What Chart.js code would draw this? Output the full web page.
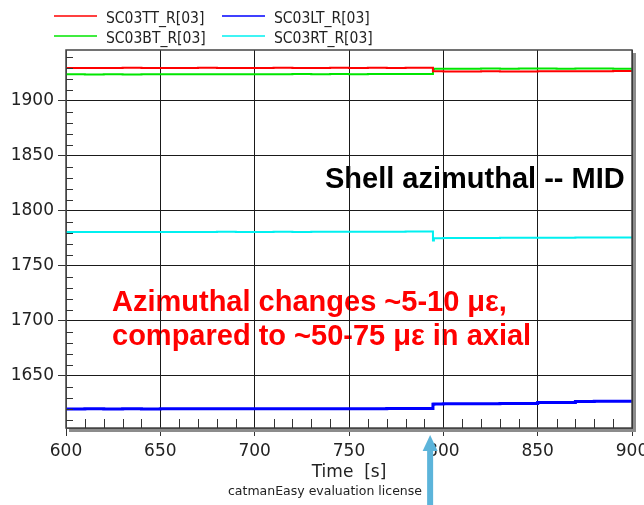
<!DOCTYPE html>
<html>
<head>
<meta charset="utf-8">
<script src="https://cdn.jsdelivr.net/npm/chart.js@4"></script>
<style>
    html, body { margin: 0; padding: 0; background: #fff; }
    #wrap { width: 644px; height: 505px; }
</style>
</head>
<body>
<div id="wrap"><canvas id="chart" width="644" height="505"></canvas></div>
<script>
// [DATA] valores
const times = [600, 610, 620, 630, 640, 650, 660, 670, 680, 690, 700, 710, 720, 730, 740, 750, 760, 770, 780, 790,
    794.5, 795, 800, 810, 820, 830, 840, 850, 860, 870, 880, 890, 900];
const seriesNames = ['SC03TT_R[03]', 'SC03LT_R[03]', 'SC03BT_R[03]', 'SC03RT_R[03]'];
const tt = [1929.6, 1929.7, 1929.6, 1929.8, 1929.6, 1929.7, 1929.7, 1929.8, 1929.7, 1929.6, 1929.7, 1929.8, 1929.7, 1929.7, 1929.8, 1929.7, 1929.8, 1929.7, 1929.8, 1929.9,
    1926.8, 1926.6, 1926.5, 1926.4, 1926.6, 1926.5, 1926.5, 1926.6, 1926.7, 1926.6, 1926.8, 1926.9, 1926.8];
const lt = [1619.8, 1619.9, 1619.8, 1619.9, 1619.8, 1620.0, 1619.9, 1620.0, 1620.1, 1620.0, 1620.0, 1620.1, 1620.0, 1620.1, 1620.0, 1620.1, 1620.1, 1620.2, 1620.2, 1620.3,
    1624.0, 1624.4, 1624.5, 1624.6, 1624.6, 1624.7, 1624.8, 1625.6, 1625.7, 1626.6, 1626.8, 1626.9, 1626.9];
const bt = [1923.9, 1923.8, 1923.9, 1923.8, 1923.9, 1924.0, 1923.9, 1923.9, 1924.0, 1923.9, 1924.0, 1924.0, 1924.1, 1924.0, 1924.1, 1924.0, 1924.1, 1924.1, 1924.2, 1924.2,
    1928.6, 1928.9, 1929.0, 1929.0, 1929.1, 1929.0, 1929.1, 1929.1, 1929.0, 1929.1, 1929.1, 1929.0, 1929.1];
const rt = [1780.6, 1780.7, 1780.6, 1780.6, 1780.7, 1780.7, 1780.6, 1780.7, 1780.8, 1780.7, 1780.7, 1780.8, 1780.7, 1780.8, 1780.8, 1780.9, 1780.8, 1780.9, 1781.0, 1781.0,
    1772.8, 1775.0, 1775.1, 1775.2, 1775.2, 1775.3, 1775.3, 1775.4, 1775.4, 1775.6, 1775.7, 1775.6, 1775.6];
const xTicks = [600, 650, 700, 750, 800, 850, 900];
const yTicks = [1650, 1700, 1750, 1800, 1850, 1900];
const arrowTime = 793;
const xTitle = 'Time  [s]';
const footer = 'catmanEasy evaluation license';
const noteTitle = 'Shell azimuthal -- MID';
const noteLines = ['Azimuthal changes ~5-10 με,', 'compared to ~50-75 με in axial'];

// [STYLE]
const colors = ['#ff0000', '#0000ff', '#00e600', '#00f0f0'];
const widths = [2, 3, 2, 2];
const values = [tt, lt, bt, rt];
const TICK_FONT = { family: 'DejaVu Sans', size: 17 };

const datasets = seriesNames.map((name, i) => ({
    label: name,
    data: times.map((t, k) => ({ x: t, y: values[i][k] })),
    borderColor: colors[i],
    backgroundColor: colors[i],
    borderWidth: widths[i],
    pointRadius: 0,
    stepped: true,
    fill: false,
}));

// Texto de fondo (bajo la rejilla)
const notesPlugin = {
    id: 'notes',
    beforeDraw(chart) {
        const ctx = chart.ctx;
        ctx.save();
        ctx.font = 'bold 29px "Liberation Sans", Arial, sans-serif';
        ctx.textBaseline = 'alphabetic';
        ctx.textAlign = 'left';
        ctx.fillStyle = '#000';
        ctx.fillText(noteTitle, 325, 188);
        ctx.fillStyle = '#ff0000';
        ctx.fillText(noteLines[0], 112, 311);
        ctx.fillText(noteLines[1], 112, 345);
        ctx.restore();
    }
};

// Marco, ticks menores, leyenda, flecha y pie
const decoPlugin = {
    id: 'deco',
    afterDraw(chart) {
        const ctx = chart.ctx;
        const a = chart.chartArea;
        const xs = chart.scales.x;
        const ys = chart.scales.y;
        ctx.save();
        // sombra del marco
        ctx.fillStyle = '#8c8c8c';
        ctx.fillRect(a.left + 3, a.bottom + 1, a.right - a.left + 1, 3);
        ctx.fillRect(a.right + 1, a.top + 3, 3, a.bottom - a.top + 1);
        ctx.strokeStyle = '#444';
        ctx.lineWidth = 1.5;
        ctx.strokeRect(a.left, a.top, a.right - a.left, a.bottom - a.top);
        // ticks menores hacia dentro
        ctx.strokeStyle = '#333';
        ctx.lineWidth = 1;
        ctx.beginPath();
        for (let v = 1610; v < 1946; v += 10) {
            if (v % 50 === 0) continue;
            const y = Math.round(ys.getPixelForValue(v)) + 0.5;
            ctx.moveTo(a.left, y);
            ctx.lineTo(a.left + 7, y);
        }
        for (let v = 610; v < 900; v += 10) {
            if (v % 50 === 0) continue;
            const x = Math.round(xs.getPixelForValue(v)) + 0.5;
            ctx.moveTo(x, a.bottom);
            ctx.lineTo(x, a.bottom - 9);
        }
        ctx.stroke();
        // leyenda 2x2
        ctx.font = '15.5px "DejaVu Sans Condensed", "DejaVu Sans", sans-serif';
        ctx.textBaseline = 'middle';
        ctx.textAlign = 'left';
        chart.data.datasets.forEach((ds, i) => {
            const col = i % 2, row = Math.floor(i / 2);
            const lx = col === 0 ? 54 : 222;
            const ly = row === 0 ? 16 : 36;
            ctx.strokeStyle = ds.borderColor;
            ctx.lineWidth = 1.5;
            ctx.beginPath();
            ctx.moveTo(lx, ly);
            ctx.lineTo(lx + 43, ly);
            ctx.stroke();
            ctx.fillStyle = '#222';
            ctx.fillText(ds.label, lx + 52, ly + 2.5);
        });
        // pie
        ctx.font = '12.5px "DejaVu Sans", sans-serif';
        ctx.textBaseline = 'alphabetic';
        ctx.fillStyle = '#222';
        ctx.fillText(footer, 228, 495);
        // flecha
        const ax = xs.getPixelForValue(arrowTime);
        ctx.fillStyle = '#5cb4da';
        ctx.beginPath();
        ctx.moveTo(ax, 435);
        ctx.lineTo(ax + 7.5, 451);
        ctx.lineTo(ax + 3, 451);
        ctx.lineTo(ax + 3, 505);
        ctx.lineTo(ax - 3, 505);
        ctx.lineTo(ax - 3, 451);
        ctx.lineTo(ax - 7.5, 451);
        ctx.closePath();
        ctx.fill();
        ctx.restore();
    }
};

const config = {
    type: 'line',
    data: { datasets },
    options: {
        responsive: false,
        animation: false,
        layout: { padding: { top: 50, right: 12, left: 0, bottom: 0 } },
        plugins: { legend: { display: false }, tooltip: { enabled: false } },
        scales: {
            x: {
                type: 'linear',
                min: 600,
                max: 900,
                afterBuildTicks: (s) => { s.ticks = xTicks.map(v => ({ value: v })); },
                afterFit: (s) => { s.height = 77; s.paddingLeft = 0; s.paddingRight = 0; },
                grid: { color: '#1a1a1a', lineWidth: 1, tickLength: 8, tickColor: '#333' },
                border: { color: '#444', width: 1 },
                ticks: { font: TICK_FONT, color: '#222', padding: 5, maxRotation: 0, autoSkip: false, callback: (v) => String(v) },
                title: { display: true, text: xTitle, font: TICK_FONT, color: '#222', padding: { top: 0, bottom: 22 } },
            },
            y: {
                type: 'linear',
                min: 1602.5,
                max: 1946,
                afterBuildTicks: (s) => { s.ticks = yTicks.map(v => ({ value: v })); },
                afterFit: (s) => { s.width = 66; s.paddingTop = 0; s.paddingBottom = 0; },
                grid: { color: '#1a1a1a', lineWidth: 1, tickLength: 8, tickColor: '#333' },
                border: { color: '#444', width: 1 },
                ticks: { font: TICK_FONT, color: '#222', padding: 4, autoSkip: false, callback: (v) => String(v) },
            }
        }
    },
    plugins: [notesPlugin, decoPlugin]
};

new Chart(document.getElementById('chart'), config);
</script>
</body>
</html>
